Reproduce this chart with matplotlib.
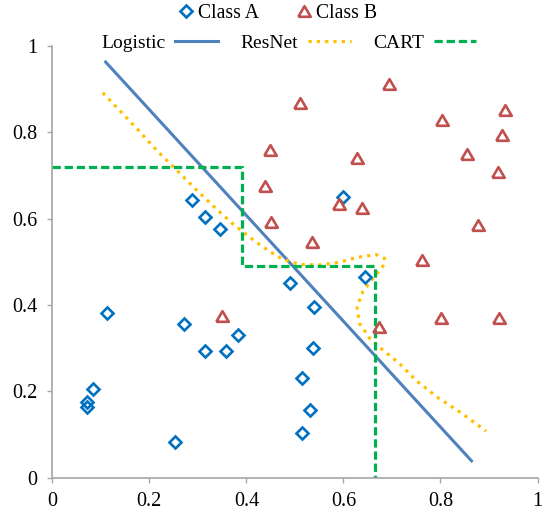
import numpy as np
import matplotlib
matplotlib.use('Agg')
import matplotlib.pyplot as plt
from matplotlib.lines import Line2D

plt.rcParams['font.family'] = ['Liberation Serif', 'DejaVu Serif']

# class A points (blue diamonds)
xa = [0.113, 0.271, 0.383, 0.314, 0.357, 0.084, 0.071, 0.072, 0.252, 0.288,
      0.314, 0.345, 0.599, 0.489, 0.540, 0.645, 0.537, 0.515, 0.532, 0.515]
ya = [0.382, 0.357, 0.330, 0.294, 0.294, 0.206, 0.175, 0.164, 0.082, 0.644,
      0.605, 0.576, 0.650, 0.452, 0.396, 0.464, 0.301, 0.232, 0.157, 0.103]

# class B points (red triangles)
xb = [0.448, 0.439, 0.451, 0.693, 0.511, 0.934, 0.803, 0.927, 0.855, 0.628,
      0.919, 0.591, 0.638, 0.877, 0.536, 0.761, 0.802, 0.920, 0.674, 0.349]
yb = [0.759, 0.676, 0.593, 0.912, 0.869, 0.852, 0.828, 0.795, 0.750, 0.741,
      0.709, 0.633, 0.625, 0.585, 0.545, 0.504, 0.371, 0.371, 0.350, 0.375]

# logistic boundary
x_log = [0.110, 0.864]
y_log = [0.963, 0.039]

# resnet boundary
x_res = [0.104, 0.143, 0.180, 0.218, 0.255, 0.294, 0.333, 0.372, 0.414, 0.448,
         0.475, 0.510, 0.551, 0.592, 0.626, 0.667, 0.685, 0.681, 0.661, 0.640,
         0.628, 0.633, 0.654, 0.681, 0.715, 0.750, 0.794, 0.839, 0.894]
y_res = [0.892, 0.846, 0.802, 0.755, 0.714, 0.670, 0.628, 0.588, 0.551, 0.524,
         0.506, 0.494, 0.493, 0.499, 0.510, 0.517, 0.508, 0.489, 0.462, 0.431,
         0.396, 0.358, 0.323, 0.296, 0.265, 0.225, 0.186, 0.153, 0.108]

# CART boundary
x_cart = [0.0, 0.392, 0.392, 0.665, 0.665]
y_cart = [0.721, 0.721, 0.490, 0.490, 0.0]

c_a = '#0070C0'
c_b = '#C0504D'
c_log = '#4F81BD'
c_res = '#FFC000'
c_cart = '#00B050'
gray = '#A6A6A6'

fig = plt.figure(figsize=(5.43, 5.12), dpi=100)
ax = fig.add_axes([0.0963, 0.067, 0.8936, 0.843])

tri = [(-1, -0.85), (1, -0.85), (0, 0.85), (-1, -0.85)]

ax.plot(x_log, y_log, color=c_log, lw=2.2, zorder=2)
ax.plot(x_res, y_res, color=c_res, lw=2.3, ls=(0, (1, 1.6)), zorder=2)
ax.plot(x_cart, y_cart, color=c_cart, lw=2.3, ls=(0, (2.6, 1.2)), zorder=2)
ax.plot(xa, ya, ls='none', marker='D', ms=6, mfc='none', mec=c_a, mew=1.9, zorder=3)
ax.plot(xb, yb, ls='none', marker=tri, ms=9, mfc='none', mec=c_b, mew=1.9, zorder=3)

ax.set_xlim(0, 1)
ax.set_ylim(0, 1)
ax.set_xticks([0, 0.2, 0.4, 0.6, 0.8, 1])
ax.set_yticks([0, 0.2, 0.4, 0.6, 0.8, 1])
ax.set_xticklabels(['0', '0.2', '0.4', '0.6', '0.8', '1'])
ax.set_yticklabels(['0', '0.2', '0.4', '0.6', '0.8', '1'])
for s in ['top', 'right']:
    ax.spines[s].set_visible(False)
for s in ['left', 'bottom']:
    ax.spines[s].set_color(gray)
    ax.spines[s].set_linewidth(1.2)
ax.tick_params(direction='out', length=3.6, width=1, color=gray, labelsize=14.5, pad=7)
for lab in ax.get_xticklabels() + ax.get_yticklabels():
    lab.set_clip_on(False)

# legends
h1 = [Line2D([], [], ls='none', marker='D', ms=6, mfc='none', mec=c_a, mew=1.9),
      Line2D([], [], ls='none', marker=tri, ms=9, mfc='none', mec=c_b, mew=1.9)]
leg1 = fig.legend(h1, ['Class A', 'Class B'], loc='center', ncol=2,
                  bbox_to_anchor=(0.513, 0.973), frameon=False, fontsize=14.2,
                  handlelength=0.6, handletextpad=0.3, columnspacing=2.0,
                  borderpad=0, borderaxespad=0)

h2 = [Line2D([], [], color=c_log, lw=2.2),
      Line2D([], [], color=c_res, lw=2.3, ls=(0, (1, 1.6))),
      Line2D([], [], color=c_cart, lw=2.3, ls=(0, (2.6, 1.2)))]
leg2 = fig.legend(h2, ['Logistic', 'ResNet', 'CART'], loc='center', ncol=3,
                  bbox_to_anchor=(0.532, 0.916), frameon=False, fontsize=14,
                  markerfirst=False, handlelength=2.2, handletextpad=0.5,
                  columnspacing=1.15, borderpad=0, borderaxespad=0)

fig.savefig('out.png', dpi=100)
